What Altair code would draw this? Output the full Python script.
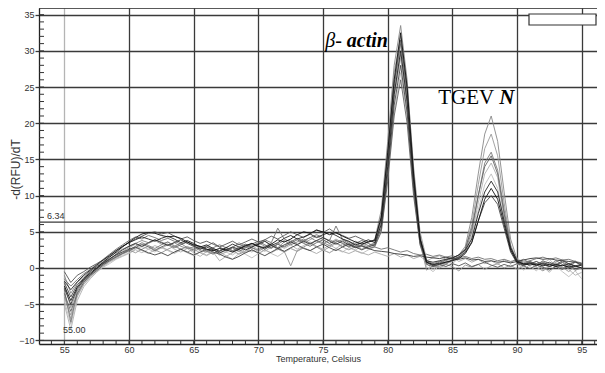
import altair as alt
import pandas as pd

temps = [55.0, 55.5, 56.0, 56.5, 57.0, 57.5, 58.0, 58.5, 59.0, 59.5,
         60.0, 60.5, 61.0, 61.5, 62.0, 62.5, 63.0, 63.5, 64.0, 64.5,
         65.0, 65.5, 66.0, 66.5, 67.0, 67.5, 68.0, 68.5, 69.0, 69.5,
         70.0, 70.5, 71.0, 71.5, 72.0, 72.5, 73.0, 73.5, 74.0, 74.5,
         75.0, 75.5, 76.0, 76.5, 77.0, 77.5, 78.0, 78.5, 79.0, 79.5,
         80.0, 80.5, 81.0, 81.5, 82.0, 82.5, 83.0, 83.5, 84.0, 84.5,
         85.0, 85.5, 86.0, 86.5, 87.0, 87.5, 88.0, 88.5, 89.0, 89.5,
         90.0, 90.5, 91.0, 91.5, 92.0, 92.5, 93.0, 93.5, 94.0, 94.5,
         95.0]

# melt curves (drawn lightest first)
w08 = [-4.5, -7.8, -4.0, -2.3, -1.3, -0.5, 0.1, 0.6, 1.2, 1.6,
       2.0, 2.5, 2.1, 2.6, 2.2, 2.8, 2.4, 2.0, 2.5, 2.1,
       1.7, 2.2, 1.8, 2.3, 2.7, 2.2, 1.8, 2.4, 1.9, 1.4,
       2.0, 2.5, 2.0, 1.6, 2.2, 2.7, 2.3, 2.8, 2.4, 2.9,
       2.5, 2.1, 2.6, 2.2, 2.8, 2.4, 2.0, 2.5, 2.9, 5.0,
       12.5, 21.5, 27.0, 21.0, 10.5, 3.2, 0.2, -0.5, 0.3, 0.6,
       0.9, 1.4, 2.1, 4.2, 8.0, 11.5, 13.0, 11.0, 6.5, 2.4,
       0.5, 0.9, 0.2, -0.4, 0.6, 1.2, 0.3, -0.5, -1.2, -0.4,
       -1.5]
w06 = [-5.0, -8.5, -4.5, -2.6, -1.5, -0.6, 0.2, 0.8, 1.3, 1.7,
       2.1, 2.6, 3.0, 2.6, 3.1, 2.7, 3.2, 2.6, 2.2, 2.7,
       2.1, 1.6, 2.3, 2.8, 2.2, 1.7, 1.2, 2.0, 2.6, 2.2,
       2.8, 2.3, 2.9, 3.3, 2.7, 3.2, 2.6, 3.1, 3.6, 3.0,
       2.6, 3.2, 2.7, 3.3, 2.9, 2.5, 3.0, 2.6, 3.1, 6.0,
       14.0, 23.5, 29.0, 22.5, 11.5, 3.8, 0.6, -0.2, 0.4, 0.9,
       0.6, 1.4, 2.2, 4.5, 9.0, 13.0, 14.5, 12.5, 7.0, 2.6,
       0.7, -0.3, 0.5, 0.9, 0.2, -0.6, 0.4, 0.8, -0.2, -1.0,
       -0.6]
w13 = [-3.8, -7.0, -3.6, -2.0, -1.1, -0.3, 0.3, 0.9, 1.4, 1.9,
       2.3, 2.8, 2.4, 2.0, 2.5, 2.9, 2.5, 2.1, 2.6, 3.0,
       2.6, 2.1, 1.7, 2.2, 1.0, 1.6, 2.1, 2.6, 2.1, 2.5,
       2.0, 2.5, 2.1, 2.6, 2.2, 2.7, 2.3, 2.8, 2.4, 2.0,
       2.5, 2.1, 2.7, 2.3, 2.0, 2.4, 2.1, 1.8, 2.2, 1.9,
       1.6, 2.0, 1.5, 1.8, 1.3, 1.6, 1.0, 1.4, 1.7, 1.2,
       1.5, 0.9, 1.3, 0.8, 1.2, 0.6, 1.0, 0.5, 1.1, 0.7,
       1.4, 0.6, 1.0, 0.4, 0.9, 0.3, 0.8, 1.2, 0.5, 1.0,
       0.2]
w03 = [-4.0, -6.5, -3.8, -2.2, -1.2, -0.3, 0.5, 1.2, 1.8, 2.3,
       2.8, 3.3, 2.9, 3.4, 3.8, 3.3, 3.6, 3.1, 2.6, 2.9,
       2.3, 2.7, 3.1, 2.6, 1.8, 2.2, 2.8, 3.5, 3.0, 2.6,
       3.1, 3.7, 3.2, 2.5, 3.0, 3.6, 4.1, 3.5, 3.9, 4.4,
       3.9, 3.4, 4.0, 3.5, 3.1, 3.7, 3.3, 2.9, 3.4, 7.5,
       16.5, 27.0, 32.0, 25.5, 14.0, 5.0, 1.2, 0.3, 0.2, 0.6,
       1.1, 1.5, 2.6, 6.0, 11.5, 16.5, 18.5, 15.5, 9.0, 3.2,
       1.0, 0.3, 0.8, 0.5, -0.2, 0.4, 0.7, 0.1, -0.5, 0.3,
       -0.2]
w11 = [-2.2, -5.5, -3.0, -1.6, -0.8, 0.0, 0.5, 1.0, 1.6, 2.1,
       2.5, 2.1, 2.6, 3.0, 2.5, 2.1, 2.6, 3.0, 2.6, 2.2,
       2.6, 3.0, 2.5, 2.0, 2.4, 2.9, 2.4, 1.9, 2.3, 2.8,
       2.3, 2.8, 3.3, 2.8, 2.3, 0.3, 2.4, 2.9, 3.4, 2.9,
       2.4, 2.9, 3.4, 2.9, 2.5, 3.0, 2.6, 3.1, 3.5, 6.5,
       14.5, 24.0, 29.5, 23.0, 11.5, 3.5, -0.3, 0.3, 0.0, 0.5,
       0.2, -0.4, 0.4, 0.1, 0.5, -0.2, 0.3, 0.6, 0.0, 0.4,
       -0.2, 0.3, 0.7, 0.1, -0.4, 0.2, 0.5, -0.1, 0.2, -0.3,
       0.0]
w01 = [-1.0, -3.5, -2.0, -1.2, -0.4, 0.3, 0.9, 1.6, 2.1, 2.6,
       3.0, 3.4, 3.8, 3.5, 3.9, 3.6, 3.2, 3.5, 3.0, 2.7,
       2.9, 2.4, 2.2, 2.6, 2.0, 2.5, 2.9, 3.3, 2.8, 3.1,
       3.5, 3.0, 3.4, 2.8, 3.6, 3.9, 3.3, 3.8, 4.2, 3.7,
       3.3, 3.9, 3.5, 3.0, 3.4, 2.9, 3.2, 3.6, 3.9, 8.0,
       17.5, 28.0, 33.5, 26.0, 13.5, 4.5, 0.9, 0.4, 0.7, 1.0,
       1.3, 1.8, 3.0, 7.0, 13.0, 18.5, 21.0, 17.5, 10.5, 4.0,
       1.2, 0.6, 0.9, 0.3, 0.7, 0.2, 0.6, 0.0, 0.4, -0.3,
       0.1]
w04 = [-3.0, -7.5, -3.2, -1.8, -0.9, -0.2, 0.6, 1.1, 1.6, 2.0,
       2.5, 3.0, 3.5, 3.1, 2.7, 3.2, 3.6, 3.0, 3.4, 2.8,
       2.5, 2.9, 2.3, 1.9, 2.4, 2.8, 2.3, 2.7, 3.2, 2.8,
       2.5, 3.0, 2.7, 3.3, 3.8, 3.2, 3.6, 4.0, 3.4, 3.8,
       3.5, 3.1, 3.6, 3.9, 3.4, 3.0, 3.5, 3.1, 3.3, 6.5,
       15.0, 25.0, 31.0, 24.0, 12.5, 4.2, 1.0, 0.6, 0.9, 0.5,
       1.2, 1.6, 2.4, 5.0, 10.0, 14.5, 16.0, 13.5, 8.0, 3.0,
       0.9, 1.2, 0.7, 0.3, 0.8, 0.4, 1.0, 0.5, 0.2, 0.8,
       0.4]
w14 = [-1.5, -2.5, -1.6, -0.8, -0.2, 0.5, 1.2, 1.9, 2.6, 3.2,
       3.8, 4.3, 4.0, 4.5, 4.2, 3.8, 4.1, 3.7, 3.3, 3.6,
       3.2, 2.8, 2.4, 2.8, 3.2, 2.8, 2.4, 2.9, 3.3, 2.9,
       3.4, 3.9, 3.5, 5.5, 4.0, 3.6, 4.1, 3.7, 4.2, 4.6,
       4.2, 3.8, 5.8, 4.0, 3.6, 3.2, 3.0, 2.7, 2.9, 2.6,
       2.8, 2.5, 2.2, 2.4, 2.0, 1.8, 1.9, 1.6, 1.8, 1.5,
       1.7, 1.4, 1.6, 1.3, 1.5, 1.2, 1.3, 1.0, 1.2, 0.9,
       1.1, 0.8, 1.0, 1.3, 1.5, 1.2, 1.4, 1.1, 1.2, 0.9,
       0.7]
w09 = [-3.5, -6.0, -3.5, -2.0, -1.0, -0.4, 0.4, 1.0, 1.5, 2.0,
       2.4, 2.8, 3.3, 2.9, 2.4, 2.9, 3.3, 2.8, 3.2, 3.6,
       3.1, 2.6, 3.0, 3.5, 2.9, 2.4, 2.8, 2.3, 2.8, 3.3,
       3.7, 3.2, 2.8, 3.3, 2.9, 3.4, 3.9, 3.4, 3.0, 3.5,
       3.9, 3.4, 3.8, 3.4, 2.9, 3.4, 3.8, 3.4, 3.0, 5.0,
       12.0, 21.0, 26.0, 20.0, 10.0, 3.2, 0.7, 0.4, 0.8, 1.1,
       1.4, 1.8, 2.7, 5.5, 10.0, 14.0, 15.5, 13.0, 7.5, 2.8,
       1.1, 0.5, 0.9, 0.4, 1.0, 0.6, 0.3, 0.8, 0.4, 0.9,
       0.3]
w10 = [-0.5, -2.0, -1.0, -0.5, 0.1, 0.6, 1.1, 1.8, 2.4, 3.0,
       3.5, 4.0, 4.4, 4.8, 5.0, 4.7, 4.9, 4.4, 4.0, 4.3,
       3.8, 3.4, 3.7, 3.3, 2.9, 3.3, 3.7, 3.2, 3.6, 4.0,
       3.6, 3.9, 4.4, 4.0, 4.5, 5.0, 4.6, 4.2, 4.7, 5.3,
       4.9, 5.4, 4.8, 4.5, 4.1, 4.4, 4.0, 3.6, 3.9, 7.0,
       15.5, 25.5, 31.5, 24.5, 12.5, 4.0, 0.5, 0.2, 0.5, 0.2,
       0.6, 0.3, 0.7, 0.2, 0.5, 0.8, 0.4, 0.1, 0.5, 0.2,
       0.6, 0.3, -0.1, 0.4, 0.1, -0.3, 0.2, -0.2, 0.3, -0.1,
       0.1]
w07 = [-2.0, -4.0, -2.3, -1.4, -0.5, 0.2, 0.7, 1.3, 1.8, 2.2,
       2.6, 2.9, 2.5, 2.1, 1.8, 2.1, 1.7, 2.2, 2.6, 2.2,
       1.8, 2.2, 2.6, 2.2, 1.9, 1.5, 1.2, 1.6, 2.1, 2.5,
       2.1, 1.7, 2.2, 2.7, 2.3, 2.8, 3.2, 2.7, 2.4, 2.9,
       3.3, 2.8, 2.4, 2.9, 3.3, 2.9, 2.5, 2.9, 3.2, 5.5,
       13.0, 22.5, 28.0, 21.5, 11.0, 3.5, 0.8, 0.3, 0.5, 0.8,
       1.1, 1.5, 2.2, 3.6, 6.5, 9.0, 10.0, 8.8, 5.5, 2.2,
       0.7, 0.4, 0.6, 0.9, 0.5, 0.8, 0.4, 1.0, 0.6, 0.3,
       0.5]
w12 = [-2.8, -5.0, -2.8, -1.7, -0.9, -0.1, 0.6, 1.2, 1.9, 2.5,
       3.0, 3.4, 3.0, 3.5, 3.9, 3.5, 3.1, 3.5, 3.9, 3.4,
       3.0, 2.6, 2.9, 2.5, 2.1, 2.5, 2.9, 2.6, 3.0, 3.4,
       3.0, 2.6, 3.1, 2.7, 3.2, 3.6, 3.2, 3.7, 3.3, 3.8,
       4.2, 3.7, 3.3, 3.7, 3.2, 2.8, 3.1, 2.7, 2.4, 2.3,
       2.2, 2.0, 1.9, 1.8, 1.6, 1.7, 1.5, 1.4, 1.3, 1.5,
       1.3, 1.2, 1.4, 1.1, 1.2, 0.9, 1.0, 0.8, 0.9, 0.7,
       0.9, 1.1, 1.3, 1.4, 1.2, 1.3, 1.1, 1.0, 0.9, 0.8,
       0.6]
w05 = [-1.8, -3.0, -1.9, -1.0, -0.3, 0.4, 1.1, 1.7, 2.4, 3.0,
       3.5, 3.9, 4.3, 4.0, 3.7, 4.1, 4.4, 4.0, 3.5, 3.8,
       3.4, 2.9, 3.2, 2.7, 2.3, 2.8, 3.3, 2.9, 2.5, 2.9,
       3.3, 3.7, 3.1, 3.5, 4.1, 4.5, 4.0, 4.3, 4.7, 4.2,
       4.6, 4.9, 4.5, 4.0, 3.7, 3.2, 3.5, 3.9, 3.5, 6.0,
       14.0, 24.0, 30.0, 23.0, 12.0, 4.0, 1.0, 0.8, 1.0, 1.2,
       1.4, 1.8, 2.5, 4.0, 7.5, 10.5, 12.0, 10.5, 6.5, 2.8,
       1.0, 0.5, 0.7, 0.4, 0.6, 0.2, 0.5, 0.3, 0.6, 0.2,
       0.4]
w02 = [-2.5, -4.5, -2.6, -1.5, -0.7, 0.0, 0.8, 1.5, 2.2, 2.9,
       3.6, 4.2, 4.7, 4.9, 4.8, 4.5, 4.3, 4.4, 4.1, 3.6,
       3.2, 3.0, 2.6, 2.4, 2.7, 2.5, 2.2, 2.6, 3.1, 3.4,
       3.0, 2.8, 3.3, 3.9, 3.6, 4.0, 4.6, 5.0, 4.8, 5.2,
       5.0, 4.6, 4.9, 4.4, 4.0, 3.6, 3.3, 3.6, 3.8, 7.0,
       16.0, 26.0, 32.5, 25.0, 13.0, 4.0, 0.8, 0.5, 0.6, 0.8,
       1.0, 1.3, 2.0, 3.5, 6.5, 9.5, 11.0, 9.5, 6.0, 2.5,
       0.8, 0.6, 0.4, 0.6, 0.3, 0.5, 0.2, 0.4, 0.1, 0.3,
       0.0]

curve_names = ["c01", "c02", "c03", "c04", "c05", "c06", "c07",
               "c08", "c09", "c10", "c11", "c12", "c13", "c14"]
curve_values = [w08, w06, w13, w03, w11, w01, w04, w14, w09, w10, w07, w12, w05, w02]
curve_colors = ["#bdbdbd", "#b0b0b0", "#a8a8a8", "#9a9a9a", "#939393", "#888888", "#7a7a7a",
                "#707070", "#646464", "#555555", "#454545", "#353535", "#242424", "#111111"]

y_major = [-10, -5, 0, 5, 10, 15, 20, 25, 30, 35]
x_major = [55, 60, 65, 70, 75, 80, 85, 90, 95]
x_minor = list(range(54, 97))
y_minor = list(range(-10, 36))
threshold = [6.34]

rows = []
for name, vals in zip(curve_names, curve_values):
    assert len(vals) == len(temps), name
    for t, v in zip(temps, vals):
        rows.append({"temp": t, "rfu": v, "curve": name})
df = pd.DataFrame(rows)

W, H = 558, 336
GRID = "#3a3a3a"
xs = alt.Scale(domain=[53.04, 96.18], nice=False, zero=False)
ys = alt.Scale(domain=[-10.5, 35.92], nice=False, zero=False)

x_axis = alt.Axis(
    values=x_major, format="d", title="Temperature, Celsius",
    grid=True,
    gridColor={"condition": {"test": "datum.value == 55", "value": "#b4b4b4"}, "value": GRID},
    gridWidth=1.3, domainColor="#222", domainWidth=1.3, tickSize=0,
    labelPadding=1, labelFontSize=9, labelColor="#333", labelFont="Liberation Sans",
    labelBaseline="top",
    titleFontSize=9, titleFontWeight="normal", titleColor="#333", titleFont="Liberation Sans",
    titlePadding=0)
y_axis = alt.Axis(
    values=y_major, format="d", title="-d(RFU)/dT",
    grid=True, gridColor=GRID, gridWidth=1.3,
    domainColor="#222", domainWidth=1.3, tickSize=4, tickColor=GRID, tickWidth=1.3,
    labelPadding=1, labelFontSize=9, labelColor="#333", labelFont="Liberation Sans",
    labelOverlap=False,
    titleFontSize=12, titleFontWeight="normal", titleColor="#333", titleFont="Liberation Sans",
    titleX=-24, titleY=161, titleAngle=270, titleAlign="center", titleBaseline="middle")


def X():
    return alt.X("temp:Q", scale=xs, axis=x_axis)


def Y():
    return alt.Y("rfu:Q", scale=ys, axis=y_axis)


lines = alt.Chart(df).mark_line(strokeWidth=0.9, clip=True).encode(
    x=X(), y=Y(),
    color=alt.Color("curve:N", scale=alt.Scale(domain=curve_names, range=curve_colors), legend=None),
)

xminor = alt.Chart(pd.DataFrame({"temp": x_minor})).mark_rule(color="#333", strokeWidth=1).encode(
    x=X(), y=alt.value(H - 3), y2=alt.value(H))
yminor = alt.Chart(pd.DataFrame({"rfu": y_minor})).mark_rule(color="#333", strokeWidth=1).encode(
    y=Y(), x=alt.value(0), x2=alt.value(5))
thr = alt.Chart(pd.DataFrame({"rfu": threshold})).mark_rule(color=GRID, strokeWidth=1.3).encode(y=Y())
top = alt.Chart(pd.DataFrame({"a": [0]})).mark_rule(color="#222", strokeWidth=1.5).encode(
    x=alt.value(0), x2=alt.value(W), y=alt.value(0))
box = alt.Chart(pd.DataFrame({"a": [0]})).mark_rect(fill="white", stroke="#333", strokeWidth=1.2).encode(
    x=alt.value(490), x2=alt.value(W - 1), y=alt.value(6), y2=alt.value(17))


def label_layer(t, v, text, **kw):
    return alt.Chart(pd.DataFrame({"temp": [t], "rfu": [v], "label": [text]})).mark_text(**kw).encode(
        x=X(), y=Y(), text="label:N")


small1 = label_layer(53.66, 6.34, "6.34", fontSize=9, font="Liberation Sans", color="#333",
                     align="left", baseline="bottom", dy=-1)
small2 = label_layer(54.9, -8.6, "55.00", fontSize=9, font="Liberation Sans", color="#333",
                     align="left", baseline="middle")
actin = label_layer(80.02, 30.53, "actin", fontSize=20, font="Liberation Serif", fontStyle="italic",
                    fontWeight="bold", color="#000", align="right", baseline="alphabetic")
beta = label_layer(80.02, 30.53, "β-", fontSize=20, font="Liberation Serif", fontStyle="italic",
                   color="#000", align="right", baseline="alphabetic", dx=-46)
tgev = label_layer(83.91, 22.61, "TGEV", fontSize=21, font="Liberation Serif", color="#000",
                   align="left", baseline="alphabetic")
nlab = label_layer(83.91, 22.61, "N", fontSize=21, font="Liberation Serif", fontStyle="italic",
                   fontWeight="bold", color="#000", align="left", baseline="alphabetic", dx=61)

chart = alt.layer(lines, thr, xminor, yminor, top, box, small1, small2, actin, beta, tgev, nlab).properties(
    width=W, height=H,
    autosize=alt.AutoSizeParams(type="none"),
    padding={"left": 31, "top": 0, "right": 0, "bottom": 21},
    background="white",
).configure_view(stroke=None)

chart.save("out.html", embed_options={"renderer": "svg", "actions": False})
